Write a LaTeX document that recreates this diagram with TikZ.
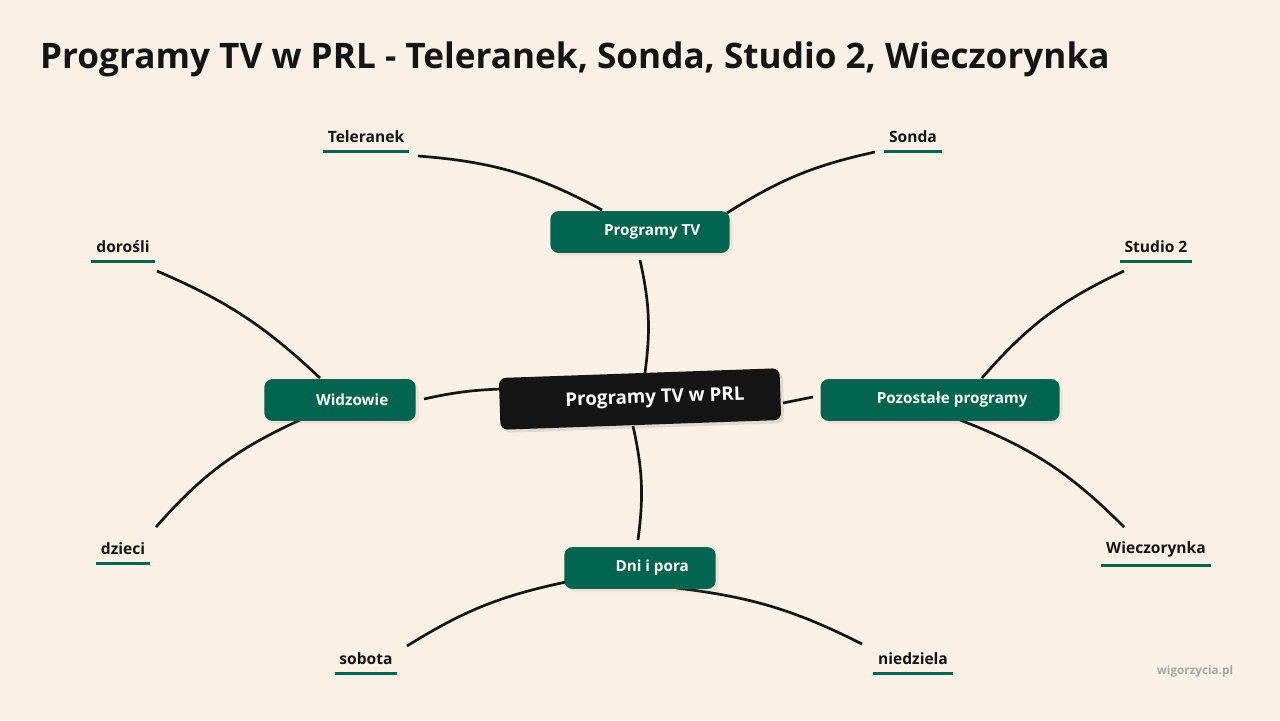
\documentclass[tikz,border=0pt]{standalone}
\usepackage{fontspec}
\setmainfont{Open Sans}
\usepackage{xcolor}
\usetikzlibrary{positioning,shadows}
\definecolor{bgcream}{HTML}{FAF0E6}
\definecolor{mmgreen}{HTML}{00644F}
\definecolor{mmdark}{HTML}{151515}

\tikzset{
    central/.style={fill=mmdark, text=white, rounded corners=6pt, minimum width=282*0.85pt, minimum height=52*0.85pt, font=\bfseries\fontsize{16}{18}\selectfont, drop shadow={opacity=0.2}},
    branch/.style={fill=mmgreen, text=white, rounded corners=7pt, minimum height=42*0.85pt, font=\bfseries\fontsize{13}{16}\selectfont, drop shadow={opacity=0.12}},
    leaf/.style={text=mmdark, font=\bfseries\fontsize{13.3}{16}\selectfont, inner sep=1pt},
    uline/.style={draw=mmgreen, line width=2.4pt},
    link/.style={draw=mmdark, line width=2.3pt},
}
\newcommand{\icongap}{\hspace*{1.6em}}

\begin{document}
\begin{tikzpicture}[x=0.03cm, y=-0.03cm]
    \fill[bgcream] (0,0) rectangle (1280,720);
    \useasboundingbox (0,0) rectangle (1280,720);
    \node[anchor=west, text=mmdark, font=\bfseries\fontsize{30}{34}\selectfont] (title) at (36,59) {Programy TV w PRL - Teleranek, Sonda, Studio 2, Wieczorynka};
    \node[text=gray!70, font=\bfseries\fontsize{10}{12}\selectfont] (credit) at (1195,671) {wigorzycia.pl};

    % leaves
    \foreach \name/\txt/\x/\y in {tel/Teleranek/366/137, son/Sonda/913/137, dor/dorośli/123/247, stu/Studio 2/1156/247,
                                  dzi/dzieci/123/549, wie/Wieczorynka/1156/549, sob/sobota/366/659, nie/niedziela/913/659} {
        \node[leaf] (\name) at (\x,\y) {\txt};
        \draw[uline] ([xshift=-3pt,yshift=-6pt]\name.south west) -- ([xshift=3pt,yshift=-6pt]\name.south east);
    }

    % links
    \draw[link] (418,156) to[bend left=12] (602,210);
    \draw[link] (875,152) to[bend right=10] (727,213);
    \draw[link] (157,271) to[bend left=10] (320,378);
    \draw[link] (1124,271) to[bend right=12] (982,378);
    \draw[link] (156,527) to[bend left=12] (300,420);
    \draw[link] (1124,527) to[bend right=12] (960,420);
    \draw[link] (407,646) to[bend left=10] (566,582);
    \draw[link] (862,644) to[bend right=10] (676,588);
    \draw[link] (640,260) to[bend left=10] (645,373);
    \draw[link] (424,399) to[bend left=5] (500,389);
    \draw[link] (783,403) -- (813,397);
    \draw[link] (633,426) to[bend left=10] (638,540);

    % nodes
    \node[branch, minimum width=180*0.85pt] (prog) at (640,232) {\icongap Programy TV};
    \node[branch, minimum width=152*0.85pt] (widz) at (340,400) {\icongap Widzowie};
    \node[branch, minimum width=240*0.85pt] (poz) at (940,400) {\icongap Pozostałe programy};
    \node[branch, minimum width=152*0.85pt] (dni) at (640,568) {\icongap Dni i pora};
    \node[central, rotate=2] (root) at (640,399) {\icongap Programy TV w PRL};
\end{tikzpicture}
\end{document}
